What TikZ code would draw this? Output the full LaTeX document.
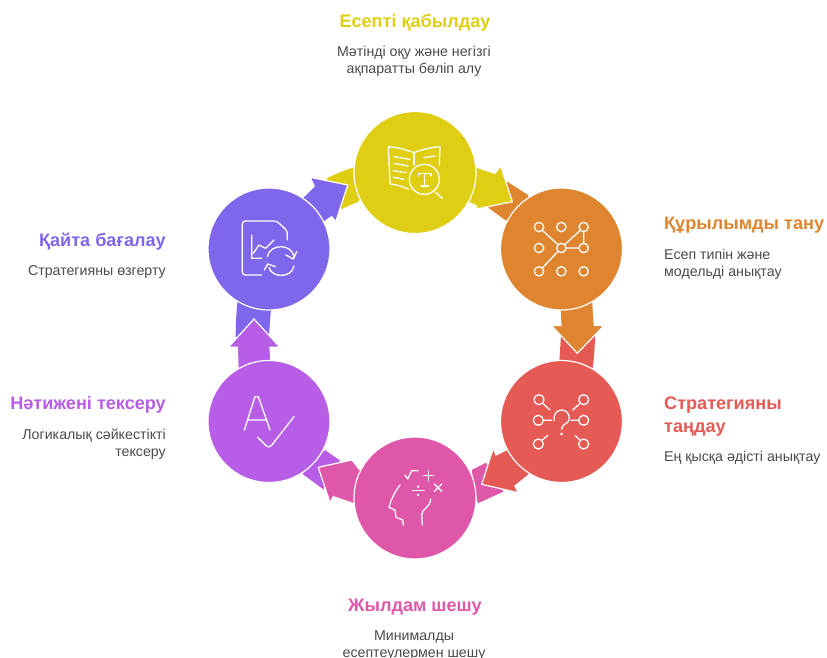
\documentclass[tikz,border=0pt]{standalone}
\usepackage{fontspec}
\setmainfont{Liberation Sans}
\definecolor{cy}{HTML}{E0CE14}
\definecolor{co}{HTML}{DF8530}
\definecolor{cr}{HTML}{E55A55}
\definecolor{cp}{HTML}{DE57A8}
\definecolor{cu}{HTML}{B85DE5}
\definecolor{cv}{HTML}{7F66EA}
\definecolor{bodyc}{HTML}{4A4A4A}
\tikzset{
 disc/.style={circle,draw=white,line width=1.2pt,minimum size=122pt,inner sep=0pt},
 head/.style={font=\fontsize{18.1}{22}\selectfont\bfseries,inner sep=0pt},
 body/.style={font=\fontsize{14.2}{17}\selectfont,text=bodyc,inner sep=0pt},
 arr/.style={draw=white,line width=1.2pt,line join=miter},
 ic/.style={draw=white,line width=1.3pt,line cap=round,line join=round},
 zoomed/.style={x=0.33333pt,y=-0.33333pt}
}
\begin{document}
\begin{tikzpicture}[x=1pt,y=-1pt]
\useasboundingbox (0,0) rectangle (827,658);
% tails
\fill[cy] (326.7,178.3) to[bend left=4] (355,167) -- (375,180) -- (358,202) to[bend right=4] (341.7,209.3) -- cycle;
\fill[co] (507.3,181.7) -- (528,195) -- (540,230) -- (505,220) -- (488.3,207.7) -- cycle;
\fill[cr] (561,335) -- (559.3,362) -- (592.7,368) to[bend right=3] (595,335) -- cycle;
\fill[cp] (471.7,470) -- (486,462.7) -- (503.3,491.7) -- (477.7,503.3) -- cycle;
\fill[cu] (325,450) -- (340,460.5) -- (323.3,489.3) -- (302.5,474) -- cycle;
\fill[cv] (237.7,300) to[bend right=3] (235.7,337) -- (269,334) -- (271.7,300) -- cycle;
% arrows
\filldraw[cy,arr] (460,175) -- (477.7,167.7) -- (495,173.3) -- (500.7,165.7) -- (512.3,201.7) -- (475,209.3) -- (477.3,205) -- (460,195) -- cycle;
\fill[cy] (455,165) -- (477,168) -- (494,175) -- (478,206) -- (455,195) -- cycle;
\filldraw[co,arr] (559.3,300) -- (561,325.5) -- (551.7,325.7) -- (577.3,353.3) -- (604,325.7) -- (594.3,325.5) -- (592.7,300) -- cycle;
\filldraw[cr,arr] (515,440) -- (506,450) -- (496,455) -- (493.3,448.3) -- (481.7,484.3) -- (518.3,492.7) -- (515,486) -- (535,470) -- cycle;
\filldraw[cp,arr] (365,467) -- (359.3,469.3) -- (352,460) -- (355,459.3) -- (318.3,467.3) -- (330,502.7) -- (333.3,496.7) -- (352.7,503.3) -- (365,505) -- cycle;
\filldraw[cu,arr] (238.3,375) -- (237.3,347.3) -- (228.3,347.3) -- (254,319) -- (280,347.3) -- (270,347.3) -- (271.7,375) -- cycle;
\filldraw[cv,arr] (295,205) -- (314.3,186) -- (310,177.3) -- (347.7,185) -- (335.7,221.7) -- (331.7,216.7) -- (324.3,221.7) -- (310,230) -- cycle;
% discs
\node[disc,fill=cy] (d1) at (415,172.5) {};
\node[disc,fill=co] (d2) at (561.5,249) {};
\node[disc,fill=cr] (d3) at (561.5,421.5) {};
\node[disc,fill=cp] (d4) at (415,498) {};
\node[disc,fill=cu] (d5) at (269,421.5) {};
\node[disc,fill=cv] (d6) at (269,249) {};
% icon 1: book and lens
\begin{scope}[shift={(340,100)},zoomed]
\draw[ic] (222,158) .. controls (195,148) and (170,142) .. (145,140) -- (150,252) .. controls (170,254) and (188,260) .. (205,267);
\draw[ic] (222,158) .. controls (245,148) and (275,142) .. (300,140) -- (298,195);
\draw[ic] (222,158) -- (222,195);
\draw[ic] (162,170) -- (210,178) (162,190) -- (205,198) (160,212) -- (198,218) (160,232) -- (192,238) (252,173) -- (285,168);
\draw[ic] (253,238) circle (45);
\draw[ic] (235,228) -- (235,221) -- (273,221) -- (273,228) (254,221) -- (254,258) (243,258) -- (265,258);
\draw[ic] (287,277) -- (307,295);
\end{scope}
% icon 2: nine dots
\begin{scope}[shift={(480,160)},zoomed]
\foreach \a in {177,244,311} \foreach \b in {201,264,334} \draw[ic] (\a,\b) circle (14);
\draw[ic] (187,211) -- (234,254) (254,254) -- (301,211) (258,264) -- (297,264) (311,215) -- (311,250) (234,274) -- (187,324);
\end{scope}
% icon 3: question and nodes
\begin{scope}[shift={(480,300)},zoomed]
\foreach \a/\b in {177/299,311/299,175/361,311/361,175/432,311/432} \draw[ic] (\a,\b) circle (15);
\draw[ic] (190,312) -- (210,330) (298,312) -- (278,330) (190,361) -- (214,361) (296,361) -- (273,361) (187,420) -- (203,406) (299,420) -- (285,406);
\draw[ic] (222,362) .. controls (218,320) and (270,320) .. (268,358) .. controls (266,372) and (245,370) .. (245,388);
\fill[white] (245,402) circle (4.5);
\end{scope}
% icon 4: head and maths
\begin{scope}[shift={(300,430)},zoomed]
\draw[ic] (315,135) -- (323,147) -- (335,122) -- (355,122);
\draw[ic] (370,137) -- (401,137) (385,122) -- (385,153);
\draw[ic] (338,182) -- (372,182);
\fill[white] (354,170) circle (4) (354,195) circle (4);
\draw[ic] (403,162) -- (425,184) (425,162) -- (403,184);
\draw[ic] (300,165) .. controls (285,185) and (272,210) .. (267,232) -- (285,240) -- (288,262) -- (308,270) -- (310,285);
\draw[ic] (392,207) .. controls (390,235) and (365,235) .. (365,255) -- (367,285);
\end{scope}
% icon 5: A and check
\begin{scope}[shift={(195,300)},zoomed]
\draw[ic] (148,390) -- (180,290) -- (190,290) -- (225,390) (160,360) -- (215,360);
\draw[ic,rounded corners=4pt] (188,412) -- (222,446) -- (297,350);
\end{scope}
% icon 6: document and refresh
\begin{scope}[shift={(195,160)},zoomed]
\draw[ic,rounded corners=3pt] (200,345) -- (142,345) -- (142,183) -- (245,183) -- (277,213) -- (277,240);
\draw[ic] (170,225) -- (170,295) -- (200,295) (175,280) -- (192,255) -- (212,265) -- (237,240);
\draw[ic] (217,290) .. controls (225,250) and (290,250) .. (297,290);
\draw[ic] (305,275) -- (295,297) -- (272,285);
\draw[ic] (297,318) .. controls (290,355) and (230,355) .. (222,322);
\draw[ic] (208,330) -- (218,312) -- (242,320);
\end{scope}
% labels
\node[head,text=cy,anchor=base] (t1) at (415,28) {Есепті қабылдау};
\node[body,anchor=base] (b1a) at (414,57) {Мәтінді оқу және негізгі};
\node[body,anchor=base] (b1b) at (414,74) {ақпаратты бөліп алу};
\node[head,text=co,anchor=base west] (t2) at (664,229) {Құрылымды тану};
\node[body,anchor=base west] (b2a) at (664,259) {Есеп типін және};
\node[body,anchor=base west] (b2b) at (664,276) {модельді анықтау};
\node[head,text=cr,anchor=base west] (t3a) at (664,409) {Стратегияны};
\node[head,text=cr,anchor=base west] (t3b) at (664,432) {таңдау};
\node[body,anchor=base west] (b3) at (664,461) {Ең қысқа әдісті анықтау};
\node[head,text=cp,anchor=base] (t4) at (415,611) {Жылдам шешу};
\node[body,anchor=base] (b4a) at (414,640) {Минималды};
\node[body,anchor=base] (b4b) at (414,657) {есептеулермен шешу};
\node[head,text=cu,anchor=base east] (t5) at (166,409) {Нәтижені тексеру};
\node[body,anchor=base east] (b5a) at (166,439) {Логикалық сәйкестікті};
\node[body,anchor=base east] (b5b) at (166,456) {тексеру};
\node[head,text=cv,anchor=base east] (t6) at (166,246) {Қайта бағалау};
\node[body,anchor=base east] (b6) at (166,275) {Стратегияны өзгерту};
\end{tikzpicture}
\end{document}
